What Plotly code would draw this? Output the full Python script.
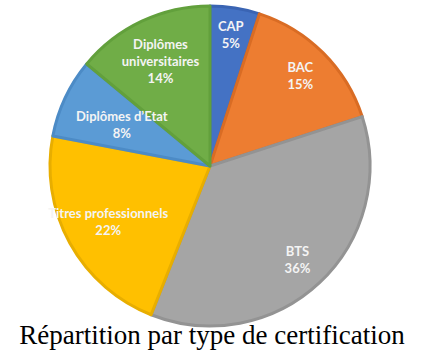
import plotly.graph_objects as go

categories = ["CAP", "BAC", "BTS", "Titres professionnels", "Diplômes d’Etat", "Diplômes<br>universitaires"]
values = [5, 15, 36, 22, 8, 14]
colors = ["#4472C4", "#ED7D31", "#A5A5A5", "#FFC000", "#5B9BD5", "#70AD47"]
border_colors = ["#3A64B3", "#D96C24", "#939393", "#E8AE00", "#4C8BC6", "#62A03C"]

W, H = 424, 350
cx, cy, r = 210, 166, 160


def domain(scale=1.0):
    rr = r * scale
    return dict(x=[(cx - rr) / W, (cx + rr) / W], y=[(H - cy - rr) / H, (H - cy + rr) / H])


labels_text = [f"<b>{c}</b><br><b>{v}%</b>" for c, v in zip(categories, values)]

fig = go.Figure()
fig.add_trace(go.Pie(
    labels=categories,
    values=values,
    sort=False,
    direction="clockwise",
    rotation=0,
    marker=dict(colors=colors, line=dict(color=border_colors, width=3)),
    textinfo="none",
    hoverinfo="label+percent",
    showlegend=False,
    domain=domain(),
))

# transparent overlay rings that carry the slice labels at different radii
groups = [(0.6, 1.0, {1, 2}), (0.45, 1.0, {3, 5}), (0.45, 0.96, {0}), (0.22, 0.76, {4})]
for hole, scale, idx in groups:
    fig.add_trace(go.Pie(
        labels=categories,
        values=values,
        sort=False,
        direction="clockwise",
        rotation=0,
        hole=hole,
        marker=dict(colors=["rgba(0,0,0,0)"] * len(values), line=dict(width=0)),
        text=[t if i in idx else "" for i, t in enumerate(labels_text)],
        texttemplate="%{text}",
        textposition="inside",
        insidetextorientation="horizontal",
        textfont=dict(family="Lato", size=13, color="#F4F4F4"),
        hoverinfo="skip",
        showlegend=False,
        domain=domain(scale),
    ))

fig.update_layout(
    width=W, height=H,
    margin=dict(l=0, r=0, t=0, b=0),
    paper_bgcolor="white",
    plot_bgcolor="white",
    title=dict(
        text="Répartition par type de certification",
        x=0.5, xanchor="center",
        y=(H - 335) / H, yanchor="middle", yref="container",
        font=dict(family="Liberation Serif", size=27, color="black"),
    ),
    uniformtext=dict(minsize=13, mode="show"),
)

fig.write_html("out.html")
